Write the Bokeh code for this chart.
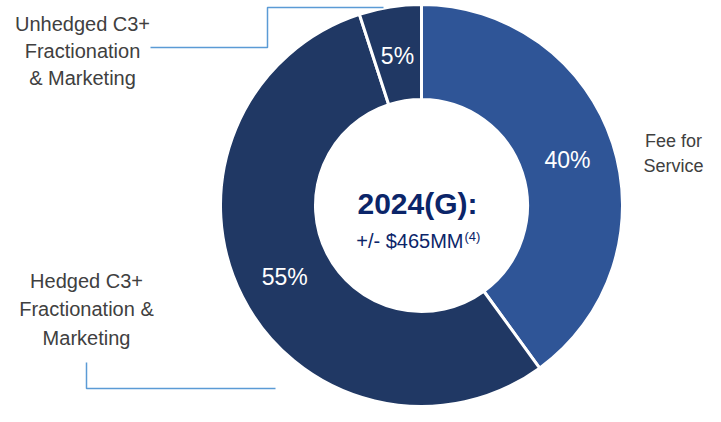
import numpy as np
from bokeh.plotting import figure
from bokeh.models import ColumnDataSource, Range1d
from bokeh.core.properties import value
from bokeh.embed import file_html
from bokeh.resources import INLINE

# ---- data ----
segments = ["Fee for Service", "Hedged C3+ Fractionation & Marketing", "Unhedged C3+ Fractionation & Marketing"]
shares = [40, 55, 5]
pct_labels = ["40%", "55%", "5%"]
colors = ["#2F5597", "#203864", "#203864"]
center_title = "2024(G):"
center_sub = "+/- $465MM"
center_sup = "(4)"
label_fee = ["Fee for", "Service"]
label_hedged = ["Hedged C3+", "Fractionation &", "Marketing"]
label_unhedged = ["Unhedged C3+", "Fractionation", "& Marketing"]

W, H = 705, 406
FONT = "Liberation Sans"
cx, cy = 421, 201
r_out, r_in = 201, 106

p = figure(width=W, height=H, x_range=Range1d(0, W), y_range=Range1d(0, H),
           output_backend="svg", toolbar_location=None, min_border=0)
p.axis.visible = False
p.grid.visible = False
p.outline_line_color = None

fr = np.array(shares) / sum(shares)
cum = np.concatenate([[0], np.cumsum(fr)])
start = np.pi / 2 - cum[:-1] * 2 * np.pi
end = np.pi / 2 - cum[1:] * 2 * np.pi
mid = (start + end) / 2

src = ColumnDataSource(dict(start=start, end=end, color=colors))
p.annular_wedge(x=cx, y=cy, inner_radius=r_in, outer_radius=r_out,
                start_angle="start", end_angle="end", direction="clock",
                fill_color="color", line_color="white", line_width=3, source=src)

rm = (r_in + r_out) / 2
lsrc = ColumnDataSource(dict(x=cx + rm * np.cos(mid), y=cy + rm * np.sin(mid) - 2, t=pct_labels))
p.text(x="x", y="y", text="t", source=lsrc, text_color="white", text_font=value(FONT),
       text_font_size="23px", text_align="center", text_baseline="middle")

# center text
p.text(x=[cx - 4], y=[cy + 2], text=[center_title], text_color="#0B2569", text_font=value(FONT),
       text_font_style="bold", text_font_size="30px", text_align="center", text_baseline="middle")
p.text(x=[cx + 42], y=[cy - 35], text=[center_sub], text_color="#0B2569", text_font=value(FONT),
       text_font_size="20px", text_align="right", text_baseline="middle")
p.text(x=[cx + 43], y=[cy - 31], text=[center_sup], text_color="#0B2569", text_font=value(FONT),
       text_font_size="13px", text_align="left", text_baseline="middle")

# side labels
def lines(xc, ytop, arr, step, size):
    ys = [ytop - i * step for i in range(len(arr))]
    p.text(x=[xc] * len(arr), y=ys, text=arr, text_color="#404040", text_font=value(FONT),
           text_font_size=size, text_align="center", text_baseline="middle")

lines(82, 383, label_unhedged, 27, "20px")
lines(86, 126, label_hedged, 28.5, "20px")
lines(673, 266, label_fee, 25, "18px")

# leader lines
p.line(x=[150, 267, 267, 383], y=[359, 359, 399, 399], line_color="#5B9BD5", line_width=1.5)
p.line(x=[86, 86, 275], y=[44, 18, 18], line_color="#5B9BD5", line_width=1.5)

open("out.html", "w").write(file_html(p, INLINE))
